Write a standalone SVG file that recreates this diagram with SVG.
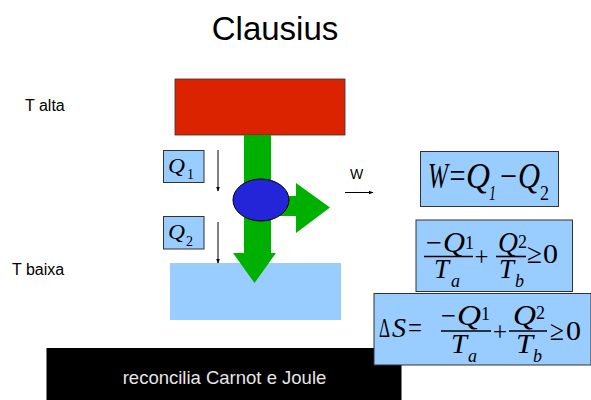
<svg xmlns="http://www.w3.org/2000/svg" width="591" height="400" viewBox="0 0 591 400">
<defs>
<style>
.sans{font-family:"Liberation Sans",Arial,sans-serif;fill:#000}
.m{font-family:"Liberation Serif","Times New Roman",serif;fill:#000}
.i{font-style:italic}
.box{fill:#99ccff;stroke:#333;stroke-width:1}
.bar{stroke:#000;stroke-width:1.6}
</style>
<marker id="ah" viewBox="0 0 10 10" refX="9" refY="5" markerWidth="5" markerHeight="5" orient="auto">
<path d="M0,1 L10,5 L0,9 z" fill="#000"/>
</marker>
</defs>
<rect width="591" height="400" fill="#fff"/>

<text class="sans" x="275" y="40" font-size="33" text-anchor="middle">Clausius</text>
<text class="sans" x="25" y="111" font-size="16">T alta</text>
<text class="sans" x="12" y="275" font-size="16">T baixa</text>

<g id="cold">
<rect x="170" y="263" width="171" height="57" fill="#99ccff"/>
</g>
<g id="hot">
<rect x="175" y="79" width="170" height="56" fill="#dc2300" stroke="#333" stroke-width="0.8"/>
</g>

<g id="connectors">
<path d="M244,135 L271,135 L271,253 L276,253 L254.5,283 L233,253 L244,253 Z" fill="#00b000"/>
<path d="M280,196 L296,196 L296,183 L330,207.5 L296,233 L296,216 L280,216 Z" fill="#00b000"/>
<line x1="218" y1="150" x2="218" y2="191" stroke="#000" stroke-width="1" marker-end="url(#ah)"/>
<line x1="218" y1="222" x2="218" y2="263" stroke="#000" stroke-width="1" marker-end="url(#ah)"/>
<line x1="345" y1="192.5" x2="373" y2="192.5" stroke="#000" stroke-width="1" marker-end="url(#ah)"/>
</g>

<g id="engine">
<ellipse cx="261" cy="200" rx="28" ry="21" fill="#2424d8" stroke="#000" stroke-width="1"/>
</g>

<g id="w-label">
<text class="sans" x="350" y="179" font-size="14">W</text>
</g>

<g id="q1">
<rect class="box" x="163.5" y="150.5" width="40.5" height="32"/>
<text class="m i" x="168" y="173" font-size="22" textLength="17" lengthAdjust="spacingAndGlyphs">Q</text>
<text class="m" x="187" y="179" font-size="14">1</text>
</g>
<g id="q2">
<rect class="box" x="163.5" y="216.5" width="40.5" height="32.5"/>
<text class="m i" x="168" y="239" font-size="22" textLength="17" lengthAdjust="spacingAndGlyphs">Q</text>
<text class="m" x="186" y="246" font-size="14">2</text>
</g>

<g id="formula-w">
<rect class="box" x="420.5" y="151.5" width="138" height="55"/>
<text class="m i" x="428" y="188" font-size="35" textLength="20" lengthAdjust="spacingAndGlyphs">W</text>
<text class="m" x="449.5" y="188" font-size="35" textLength="16" lengthAdjust="spacingAndGlyphs">=</text>
<text class="m i" x="466" y="188" font-size="35" textLength="24" lengthAdjust="spacingAndGlyphs">Q</text>
<text class="m i" x="489" y="200" font-size="22" textLength="7" lengthAdjust="spacingAndGlyphs">1</text>
<text class="m" x="500" y="188" font-size="35" textLength="17" lengthAdjust="spacingAndGlyphs">−</text>
<text class="m i" x="518" y="188" font-size="35" textLength="22" lengthAdjust="spacingAndGlyphs">Q</text>
<text class="m" x="540" y="200" font-size="22" textLength="9" lengthAdjust="spacingAndGlyphs">2</text>
</g>

<g id="formula-ineq">
<rect class="box" x="416" y="220" width="156.5" height="71.5"/>
<text class="m" x="426" y="252" font-size="28" textLength="16" lengthAdjust="spacingAndGlyphs">−</text>
<text class="m i" x="443" y="252" font-size="29" textLength="22" lengthAdjust="spacingAndGlyphs">Q</text>
<text class="m" x="465" y="249" font-size="18">1</text>
<line class="bar" x1="424" y1="256.5" x2="473" y2="256.5"/>
<text class="m i" x="434" y="278" font-size="28" textLength="15" lengthAdjust="spacingAndGlyphs">T</text>
<text class="m i" x="451" y="287" font-size="18">a</text>
<text class="m" x="474.5" y="266" font-size="28" textLength="14" lengthAdjust="spacingAndGlyphs">+</text>
<text class="m i" x="498" y="252" font-size="29" textLength="20" lengthAdjust="spacingAndGlyphs">Q</text>
<text class="m" x="518" y="248" font-size="18">2</text>
<line class="bar" x1="496" y1="256.5" x2="526" y2="256.5"/>
<text class="m i" x="499" y="278" font-size="28" textLength="15" lengthAdjust="spacingAndGlyphs">T</text>
<text class="m i" x="515" y="287" font-size="18">b</text>
<text class="m" x="527" y="263" font-size="28" textLength="15" lengthAdjust="spacingAndGlyphs">≥</text>
<text class="m" x="543" y="263" font-size="28" textLength="15" lengthAdjust="spacingAndGlyphs">0</text>
</g>

<g id="footer">
<rect x="46.5" y="348" width="355" height="52" fill="#000"/>
<text class="sans" x="224.5" y="384" font-size="18.5" text-anchor="middle" style="fill:#e6e6e6">reconcilia Carnot e Joule</text>
</g>

<g id="formula-entropy">
<rect class="box" x="374" y="293.5" width="217" height="71.5"/>
<text class="m" x="379" y="337" font-size="28" textLength="11" lengthAdjust="spacingAndGlyphs">Δ</text>
<text class="m i" x="392" y="337" font-size="28" textLength="14" lengthAdjust="spacingAndGlyphs">S</text>
<text class="m" x="408" y="337" font-size="28" textLength="14" lengthAdjust="spacingAndGlyphs">=</text>
<text class="m" x="441" y="325" font-size="28" textLength="15" lengthAdjust="spacingAndGlyphs">−</text>
<text class="m i" x="457" y="325" font-size="29" textLength="24" lengthAdjust="spacingAndGlyphs">Q</text>
<text class="m" x="481" y="320" font-size="18">1</text>
<line class="bar" x1="441" y1="331" x2="491" y2="331"/>
<text class="m i" x="451" y="353" font-size="28" textLength="16" lengthAdjust="spacingAndGlyphs">T</text>
<text class="m i" x="468" y="362" font-size="18">a</text>
<text class="m" x="493" y="341" font-size="28" textLength="14" lengthAdjust="spacingAndGlyphs">+</text>
<text class="m i" x="513" y="325" font-size="29" textLength="23" lengthAdjust="spacingAndGlyphs">Q</text>
<text class="m" x="536" y="319" font-size="18">2</text>
<line class="bar" x1="509" y1="331" x2="547" y2="331"/>
<text class="m i" x="516" y="353" font-size="28" textLength="17" lengthAdjust="spacingAndGlyphs">T</text>
<text class="m i" x="533" y="362" font-size="18">b</text>
<text class="m" x="550" y="340" font-size="28" textLength="14" lengthAdjust="spacingAndGlyphs">≥</text>
<text class="m" x="566" y="340" font-size="28" textLength="15" lengthAdjust="spacingAndGlyphs">0</text>
</g>
</svg>
